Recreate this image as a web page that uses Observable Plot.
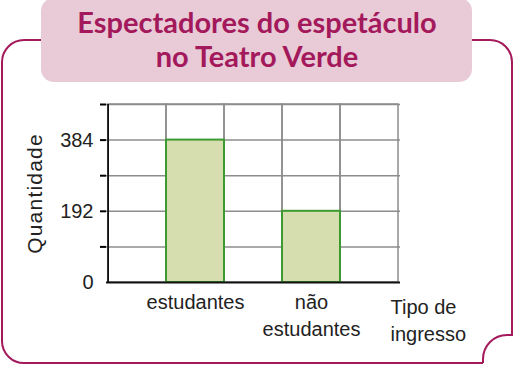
<!DOCTYPE html>
<html><head><meta charset="utf-8">
<script src="https://cdn.jsdelivr.net/npm/d3@7"></script>
<script src="https://cdn.jsdelivr.net/npm/@observablehq/plot@0.6"></script>
<style>
body{margin:0;background:#fff;}
#chart{width:514px;height:366px;overflow:hidden;}
#chart svg{display:block;}
</style></head><body><div id="chart"></div>
<script>
// ---- data ----
const slots = ["s0", "estudantes", "s2", "não estudantes", "s4"];
const categories = ["estudantes", "não estudantes"];
const values = [384, 192];
const yTickMarks = [96, 192, 288, 384, 480];
const yTickLabels = [0, 192, 384];
const titleLines = ["Espectadores do espetáculo", "no Teatro Verde"];
const yTitle = "Quantidade";
const xTitle = "Tipo de\ningresso";
const xLabelText = {"estudantes": "estudantes", "não estudantes": "não\nestudantes"};

const data = categories.map((c, i) => ({cat: c, value: values[i]}));
const cells = slots.map(s => ({slot: s, top: yTickMarks[yTickMarks.length - 1]}));

const FONT = "'Liberation Sans', Arial, sans-serif";
const MAG = "#a3195b";

function decor() {
  const g = d3.create("svg:g");
  g.append("path")
    .attr("d", "M483,363 L25,363 A22,22 0 0 1 2,341 L2,62 A22,22 0 0 1 24,40 L60,40 M450,40 L490,40 A22,22 0 0 1 512,62 L512,335 L507,335 A24,24 0 0 0 483,359 L483,363")
    .attr("fill", "none").attr("stroke", MAG).attr("stroke-width", 2);
  g.append("rect").attr("x", 41).attr("y", -2).attr("width", 431).attr("height", 84)
    .attr("rx", 13).attr("fill", "#e8cbd7");
  const t = g.append("text").attr("text-anchor", "middle").attr("fill", MAG)
    .attr("font-family", "Lato, 'Open Sans', sans-serif").attr("font-weight", 700)
    .attr("font-size", 29);
  titleLines.forEach((line, i) => {
    t.append("tspan").attr("x", 257).attr("y", 33 + i * 34).text(line);
  });
  return g.node();
}

const bandHalf = (514 - 106 - 114) / slots.length / 2;

const plot = Plot.plot({
  width: 514,
  height: 366,
  marginLeft: 106,
  marginRight: 114,
  marginTop: 104,
  marginBottom: 84,
  style: {fontFamily: FONT, fontSize: "20px", color: "#111", background: "transparent"},
  x: {type: "band", domain: slots, padding: 0},
  y: {domain: [0, 480], range: [282, 104]},
  marks: [
    decor,
    // grid cells (vertical grid lines)
    Plot.barY(cells, {x: "slot", y1: 0, y2: "top", fill: "none", stroke: "#8c8c8c", strokeWidth: 1.5, inset: 0}),
    // horizontal grid lines
    Plot.ruleY(yTickMarks, {stroke: "#8c8c8c", strokeWidth: 1.5}),
    // bars
    Plot.barY(data, {x: "cat", y: "value", fill: "#d6deb0", stroke: "#3d9a30", strokeWidth: 2, inset: 0}),
    // axes
    Plot.axisY({ticks: yTickMarks, tickSize: 6, tickFormat: () => "", stroke: "#000", strokeOpacity: 1, strokeWidth: 2}),
    Plot.axisY({ticks: yTickLabels, tickSize: 0, tickPadding: 13, fontSize: 20, fill: "#222", label: null}),
    Plot.ruleX([slots[0]], {dx: -bandHalf, stroke: "#111", strokeWidth: 1.8, y1: 0, y2: 480}),
    Plot.ruleY([0], {stroke: "#111", strokeWidth: 2}),
    Plot.axisX({ticks: categories, tickSize: 0, tickPadding: 8, lineHeight: 1.33, tickFormat: d => xLabelText[d], fill: "#222", label: null}),
    Plot.text([yTitle], {frameAnchor: "left", dx: -71, rotate: -90, textAnchor: "middle", fontSize: 21, fill: "#222"}),
    Plot.text([xTitle], {frameAnchor: "bottom-right", dx: -10, dy: 13, textAnchor: "start", lineAnchor: "top", lineHeight: 1.33, fontSize: 20, fill: "#222"})
  ]
});
d3.select(plot).selectAll("text").filter(function() { return this.textContent === yTitle; })
  .attr("letter-spacing", "1.2px");
document.getElementById("chart").appendChild(plot);
</script>
</body></html>
